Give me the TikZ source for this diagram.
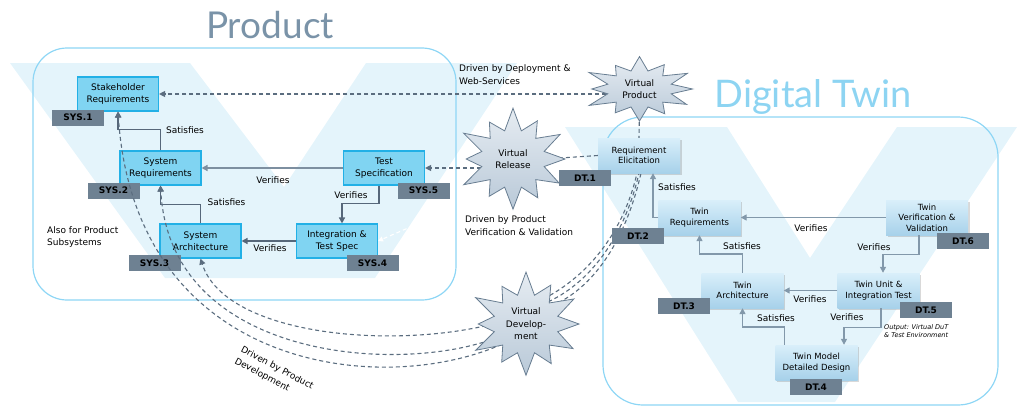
\documentclass[tikz,border=0pt]{standalone}
\usepackage{fontspec}
\setmainfont{DejaVu Sans}
\newfontfamily\titlefont{Lato}
\usetikzlibrary{arrows.meta,calc,shapes.geometric,shadows}
\pgfdeclarelayer{back}
\pgfdeclarelayer{frame}
\pgfdeclarelayer{mid}
\pgfdeclarelayer{front}
\pgfsetlayers{back,frame,mid,main,front}

\begin{document}
\begin{tikzpicture}[x=1pt, y=-1pt, font=\fontsize{9}{12.5}\selectfont,
  prodbox/.style={draw=cBoxLine, fill=cBox, line width=1.1pt, minimum width=81pt,
    minimum height=34pt, align=center, inner sep=1pt},
  twinbox/.style={top color=cTwinTop, bottom color=cTwinBot, minimum width=82pt,
    minimum height=35pt, align=center, inner sep=1pt, font=\fontsize{8.5}{10.5}\selectfont,
    drop shadow={shadow xshift=1.5pt, shadow yshift=-1.5pt, opacity=.3}},
  tag/.style={fill=cTag, minimum width=52pt, minimum height=16pt, inner sep=0pt,
    font=\fontsize{9}{10}\selectfont\bfseries},
  lbl/.style={inner sep=1pt},
  note/.style={inner sep=0pt, align=left},
  prodarr/.style={draw=cArrow, line width=1.4pt, -{Triangle[length=6pt,width=6pt]}},
  twinarr/.style={draw=cTwinArrow, line width=1.4pt, -{Triangle[length=6pt,width=6pt]}},
  link/.style={draw=cDash, line width=1.1pt, dash pattern=on 4pt off 3pt},
  linkarr/.style={link, -{Triangle[length=6pt,width=6pt]}},
  starshape/.style={draw=cStarLine, line width=.8pt, top color=cStarTop, bottom color=cStarBot},
  starlbl/.style={ellipse, inner sep=0pt, align=center},
  panel/.style={draw=cFrame, line width=1.2pt}]

% --- colours ---
\definecolor{cVee}      {HTML}{E4F4FB}
\definecolor{cFrame}    {HTML}{8ED6F5}
\definecolor{cProdTitle}{HTML}{7A93A8}
\definecolor{cTwinTitle}{HTML}{8DD4F2}
\definecolor{cBox}      {HTML}{80D4F2}
\definecolor{cBoxLine}  {HTML}{22B0E6}
\definecolor{cTag}      {HTML}{6E8192}
\definecolor{cTwinTop}  {HTML}{D9EFFA}
\definecolor{cTwinBot}  {HTML}{A7D1EA}
\definecolor{cArrow}    {HTML}{56677A}
\definecolor{cArrowLt}  {HTML}{7D8FA0}
\definecolor{cTwinArrow}{HTML}{8298AA}
\definecolor{cDash}     {HTML}{5B6D7F}
\definecolor{cStarTop}  {HTML}{E6ECF2}
\definecolor{cStarBot}  {HTML}{B9C9D8}
\definecolor{cStarLine} {HTML}{687D91}

\useasboundingbox (0,0) rectangle (1024,412);

% --- the two V's and their frames ---
\begin{pgfonlayer}{back}
  \fill[cVee] (10,63) -- (190,63) -- (284,187) -- (366,63) -- (517,63)
    -- (375,278) -- (165,278) -- cycle;
  \fill[cVee] (565,127) -- (727,127) -- (810,258) -- (897,127) -- (1017,127)
    -- (835,402) -- (738,402) -- cycle;
\end{pgfonlayer}
\begin{pgfonlayer}{frame}
  \draw[panel, rounded corners=34pt] (33,48) rectangle (456,300);
  \draw[panel, rounded corners=40pt] (603,117) rectangle (998,405);
\end{pgfonlayer}

\node[font=\titlefont\fontsize{37}{40}\selectfont, text=cProdTitle, anchor=base]
  (ptitle) at (270,38) {Product};
\node[font=\titlefont\fontsize{38}{40}\selectfont, text=cTwinTitle, anchor=base]
  (ttitle) at (813,107) {Digital Twin};

% --- stars ---
\begin{pgfonlayer}{front}
\foreach \nm/\cx/\cy/\rx/\ry/\txt in
  {vprod/639.5/89/53/30/{Virtual\\Product},
   vrel/513/159/52/47/{Virtual\\Release},
   vdev/526/324/53/48/{Virtual\\Develop-\\ment}}{%
  \shadedraw[starshape] plot[samples at={0,...,23}, variable=\k]
    ({\cx+cos(\k*15)*\rx*(mod(\k,2)==0 ? 1+0.1*sin(\k*83) : 0.62)},
     {\cy+sin(\k*15)*\ry*(mod(\k,2)==0 ? 1+0.1*sin(\k*83) : 0.62)}) -- cycle;
  \node[starlbl, minimum width={1.24*\rx*1pt}, minimum height={1.24*\ry*1pt}]
    (\nm) at (\cx,\cy) {\txt};
}
\end{pgfonlayer}

% --- product V boxes ---
\foreach \nm/\bx/\by/\txt in
  {sreq/118/94/{Stakeholder\\Requirements},
   sysreq/160.5/168/{System\\Requirements},
   tspec/384/168/{Test\\Specification},
   sarch/200.5/241/{System\\Architecture},
   itspec/337/241/{Integration \&\\Test Spec}}
  \node[prodbox] (\nm) at (\bx,\by) {\txt};

% --- twin V boxes ---
\foreach \nm/\bx/\by/\txt in
  {relic/639/155.5/{Requirement\\Elicitation},
   treq/699.5/217.5/{Twin\\Requirements},
   tvv/927/217.5/{Twin\\Verification \&\\Validation},
   tarch/742.5/290.5/{Twin\\Architecture},
   tunit/878.5/290.5/{Twin Unit \&\\Integration Test},
   tmodel/816.5/362.5/{Twin Model\\Detailed Design}}
  \node[twinbox] (\nm) at (\bx,\by) {\txt};

% --- tags ---
\foreach \nm/\tx/\ty/\txt in
  {sys1/78/117.5/SYS.1, sys2/113.5/190.5/SYS.2, sys5/423.5/190.5/SYS.5,
   sys3/154.5/263/SYS.3, sys4/372.5/263/SYS.4,
   dt1/585/178/DT.1, dt2/638/236/DT.2, dt6/963/241/DT.6,
   dt3/684/306/DT.3, dt5/926/310/DT.5, dt4/816/387/DT.4}
  \node[tag] (\nm) at (\tx,\ty) {\txt};

% --- solid links ---
\draw[prodarr] (sysreq.north) -- ++(0,-21) -| (sreq.south);
\draw[prodarr] (sarch.north) -- ++(0,-19) -| (sysreq.south);
\draw[prodarr, draw=cArrowLt] (tspec.west) -- (sysreq.east);
\draw[prodarr] ([xshift=-5pt]tspec.south) -- ++(0,18) -| ([xshift=5pt]itspec.north);
\draw[prodarr] (itspec.west) -- (sarch.east);

\draw[twinarr] (treq.west) -| ([xshift=14pt]relic.south);
\draw[twinarr] (tarch.north) -- ++(0,-19) -| (treq.south);
\draw[twinarr] (tvv.west) -- (treq.east);
\draw[twinarr] ([xshift=-8pt]tvv.south) -- ++(0,19) -| ([xshift=4.5pt]tunit.north);
\draw[twinarr] (tunit.west) -- (tarch.east);
\draw[twinarr] ([xshift=9pt]tmodel.north west) -- ++(0,-18) -| (tarch.south);
\draw[twinarr] ([xshift=2.5pt]tunit.south) -- ++(0,19) -| ([xshift=27.5pt]tmodel.north);

\foreach \lx/\ly/\lt [count=\li] in
  {185/130/Satisfies, 226.5/202/Satisfies, 273/180/Verifies, 351/195/Verifies,
   270/248/Verifies, 677/187/Satisfies, 742/246/Satisfies, 811/228/Verifies,
   874/247/Verifies, 810/299/Verifies, 776/318/Satisfies, 847/317/Verifies}
  \node[lbl] (lab\li) at (\lx,\ly) {\lt};

% --- notes ---
\node[note, anchor=west] (ndeploy) at (459,74.5) {Driven by Deployment \&\\Web-Services};
\node[note, anchor=west] (nverif) at (465,225.5) {Driven by Product\\Verification \& Validation};
\node[note, anchor=west] (nsub) at (47,237) {Also for Product\\Subsystems};
\node[note, rotate=-28, font=\fontsize{9}{13}\selectfont] (ndev) at (274,374)
  {Driven by Product\\Development};
\node[note, anchor=west, font=\fontsize{6.5}{8}\selectfont\itshape] (nout)
  at (884,331) {Output: Virtual DuT\\\& Test Environment};

% --- dashed links ---
\draw[linkarr] (vprod.west |- sreq.east) -- (sreq.east);
\draw[linkarr] (vrel.west |- tspec.east) -- (tspec.east);
\draw[linkarr] (vdev.180) .. controls (390,350) and (225,335) .. (sarch.south);
\draw[linkarr] (vdev.205) .. controls (400,375) and (170,360) .. (sysreq.south);
\draw[linkarr] (vdev.220) .. controls (380,398) and (135,370) .. (sreq.south);

\begin{pgfonlayer}{mid}
  \draw[link] (vprod.south) -- (relic.north);
  \draw[link] (relic.west) -- (vrel.east);
  \foreach \a/\k in {55/0, 45/1, 35/2}
    \draw[link] (vdev.\a) .. controls ({590+5*\k},{275+5*\k}) and ({624+2*\k},230)
      .. ([xshift={(\k-1)*2pt}]relic.south);
\end{pgfonlayer}

\begin{pgfonlayer}{back}
  \draw[white, line width=1.1pt, dash pattern=on 4pt off 3pt,
    -{Triangle[length=5pt,width=5pt]}] (vrel.250) -- (itspec.east);
\end{pgfonlayer}

\end{tikzpicture}
\end{document}
